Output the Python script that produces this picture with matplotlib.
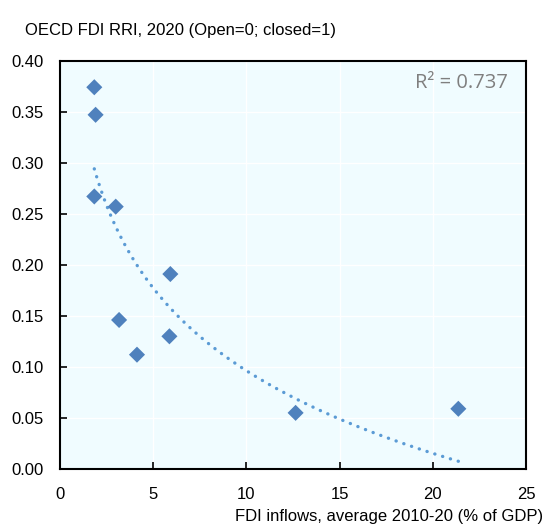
import numpy as np
import matplotlib
matplotlib.use("Agg")
import matplotlib.pyplot as plt

# Data
fdi_inflows = [1.84, 1.91, 1.84, 2.99, 3.17, 4.13, 5.87, 5.92, 12.64, 21.37]
fdi_rri = [0.374, 0.347, 0.267, 0.257, 0.146, 0.112, 0.130, 0.191, 0.055, 0.059]
x_ticks = [0, 5, 10, 15, 20, 25]
y_ticks = [0.00, 0.05, 0.10, 0.15, 0.20, 0.25, 0.30, 0.35, 0.40]
title_text = "OECD FDI RRI, 2020 (Open=0; closed=1)"
xlabel_text = "FDI inflows, average 2010-20 (% of GDP)"
r2_text = "R\u00b2 = 0.737"

plt.rcParams['font.family'] = ['Liberation Sans', 'DejaVu Sans']

fig = plt.figure(figsize=(5.47, 5.29), dpi=100)
ax = fig.add_axes([60/547, 1-469/529, (526-60)/547, (469-60.7)/529])
ax.set_facecolor('#F0FCFF')

x = np.array(fdi_inflows)
y = np.array(fdi_rri)

# logarithmic trendline
a, b = np.polyfit(np.log(x), y, 1)
xt = np.linspace(x.min(), x.max(), 300)
ax.plot(xt, a*np.log(xt)+b, color='#5B9BD5', lw=2.4, linestyle=(0, (0.05, 2.4)),
        dash_capstyle='round', zorder=2)

ax.scatter(x, y, marker='D', s=8.2**2, color='#4F81BD', edgecolor='none', zorder=3)

ax.set_xlim(0, 25)
ax.set_ylim(0, 0.40)
ax.set_xticks(x_ticks)
ax.set_yticks(y_ticks)
ax.set_xticklabels([str(t) for t in x_ticks])
ax.set_yticklabels([f"{t:.2f}" for t in y_ticks])
ax.grid(True, color='white', lw=1.0)
ax.set_axisbelow(True)
for s in ax.spines.values():
    s.set_color('black')
    s.set_linewidth(1.5)
ax.tick_params(direction='in', length=5, width=1.2, labelsize=12, colors='black')
ax.tick_params(axis='y', pad=12)
ax.tick_params(axis='x', pad=13)

fig.text(25/547, 1-35/529, title_text, fontsize=12, ha='left', va='baseline')
fig.text(543/547, 1-517/529, xlabel_text, fontsize=12, ha='right', va='center')

ax.text((508-60)/466, 0.945, r2_text, transform=ax.transAxes, ha='right', va='center',
        fontsize=14.5, color='#7F7F7F', family=['Open Sans', 'DejaVu Sans'])

fig.savefig('out.png', dpi=100)
